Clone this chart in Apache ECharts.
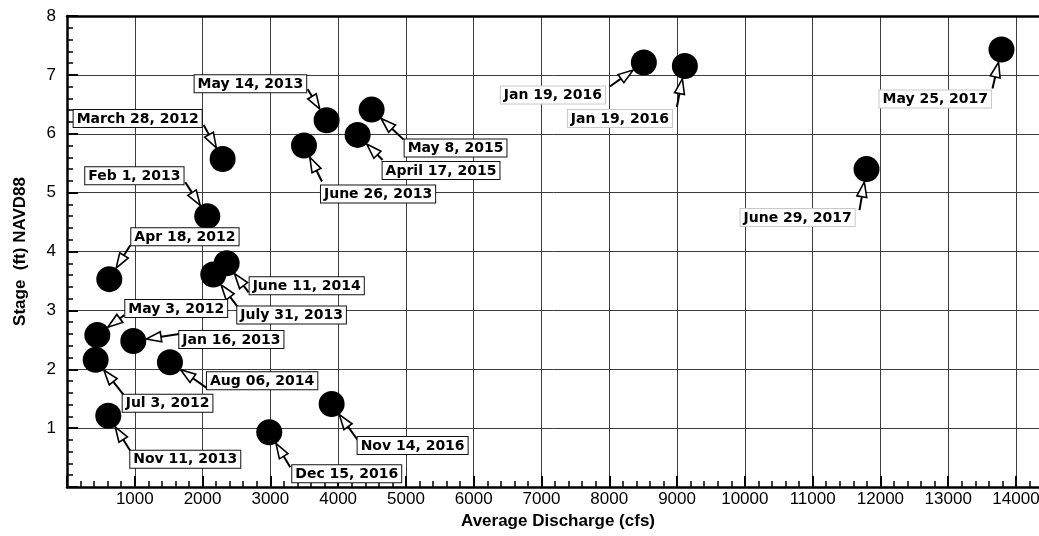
<!DOCTYPE html>
<html>
<head>
<meta charset="utf-8">
<script src="https://cdn.jsdelivr.net/npm/echarts@6/dist/echarts.min.js"></script>
<style>
  html, body { margin: 0; padding: 0; background: #fff; }
  #chart { width: 1039px; height: 536px; }
</style>
</head>
<body>
<div id="chart"></div>
<script>
// Survey dates, average discharge (cfs) and stage (ft, NAVD88)
const sampleDates = [
  'March 28, 2012', 'Feb 1, 2013', 'Apr 18, 2012', 'May 14, 2013', 'June 26, 2013',
  'April 17, 2015', 'May 8, 2015', 'Jan 19, 2016', 'Jan 19, 2016', 'May 25, 2017',
  'June 29, 2017', 'June 11, 2014', 'July 31, 2013', 'May 3, 2012', 'Jan 16, 2013',
  'Jul 3, 2012', 'Aug 06, 2014', 'Nov 11, 2013', 'Dec 15, 2016', 'Nov 14, 2016'
];
const discharge = [
  2296, 2069, 624, 3830, 3496,
  4287, 4494, 8510, 9115, 13786,
  11795, 2355, 2158, 447, 978,
  423, 1519, 609, 2984, 3904
];
const stage = [
  5.57, 4.60, 3.53, 6.23, 5.80,
  5.98, 6.41, 7.21, 7.15, 7.43,
  5.40, 3.80, 3.61, 2.58, 2.48,
  2.16, 2.12, 1.21, 0.93, 1.41
];

// Axis tick labels
const xTickLabels = ['1000', '2000', '3000', '4000', '5000', '6000', '7000',
  '8000', '9000', '10000', '11000', '12000', '13000', '14000'];
const yTickLabels = ['1', '2', '3', '4', '5', '6', '7', '8'];

// Callout placement relative to each marker, in pixels:
// [box left dx, box top dy, arrow tail dx, arrow tail dy, light border]
const calloutLayout = [
  [-149, -49, -19, -34, 0],
  [-122, -49, -22, -34, 0],
  [22, -51, 21, -34, 0],
  [-132, -45, -19, -31, 0],
  [17, 40, 18, 36, 0],
  [25, 27, 25, 25, 0],
  [33, 30, 32, 30, 0],
  [-143, 24, -34, 24, 1],
  [-117, 44, -8, 41, 1],
  [-122, 41, -9, 39, 1],
  [-126, 40, -7, 41, 1],
  [23, 14, 22, 29, 0],
  [24, 32, 24, 32, 0],
  [28, -35, 27, -20, 0],
  [46, -10, 46, -7, 0],
  [27, 35, 28, 35, 0],
  [37, 10, 37, 26, 0],
  [22, 35, 22, 35, 0],
  [23, 33, 21, 35, 0],
  [26, 33, 26, 36, 0]
];

const points = discharge.map((q, i) => [q, stage[i]]);

const MARKER_R = 13;
const HEAD_LEN = 15;
const HEAD_HALF = 5;
const baseFont = '"Liberation Sans", Arial, sans-serif';
// the plot runs on past the right edge of the page
const X_MAX = 14487;

function renderCallout(params, api) {
  const i = params.dataIndex;
  const p = api.coord([api.value(0), api.value(1)]);
  const lay = calloutLayout[i];
  const tx = p[0] + lay[2], ty = p[1] + lay[3];
  const vx = tx - p[0], vy = ty - p[1];
  const len = Math.sqrt(vx * vx + vy * vy) || 1;
  const ux = vx / len, uy = vy / len;
  const tipX = p[0] + ux * MARKER_R, tipY = p[1] + uy * MARKER_R;
  const baseX = tipX + ux * HEAD_LEN, baseY = tipY + uy * HEAD_LEN;
  const nx = -uy, ny = ux;
  return {
    type: 'group',
    children: [
      {
        type: 'line',
        shape: { x1: tx, y1: ty, x2: baseX, y2: baseY },
        style: { stroke: '#000', lineWidth: 2 }
      },
      {
        type: 'polygon',
        shape: { points: [
          [tipX, tipY],
          [baseX + nx * HEAD_HALF, baseY + ny * HEAD_HALF],
          [baseX - nx * HEAD_HALF, baseY - ny * HEAD_HALF]
        ] },
        style: { fill: '#fff', stroke: '#000', lineWidth: 1.6, lineJoin: 'miter' }
      },
      {
        type: 'text',
        x: p[0] + lay[0],
        y: p[1] + lay[1],
        style: {
          text: sampleDates[i],
          font: 'bold 14px "DejaVu Sans", sans-serif',
          fill: '#000',
          align: 'left',
          verticalAlign: 'top',
          lineHeight: 16,
          backgroundColor: '#fff',
          borderColor: lay[4] ? '#c8c8c8' : '#111',
          borderWidth: 1,
          padding: [1, 3, 0, 3]
        }
      }
    ]
  };
}

const chart = echarts.init(document.getElementById('chart'), null, { renderer: 'canvas' });

const axisFont = { fontFamily: baseFont, fontSize: 17, color: '#000' };
const titleFont = { fontFamily: baseFont, fontSize: 17, fontWeight: 'bold', color: '#000' };

chart.setOption({
  animation: false,
  backgroundColor: '#fff',
  grid: {
    left: 67, top: 16, right: -10, bottom: 49,
    containLabel: false,
    outerBoundsMode: 'none'
  },
  xAxis: [
    {
      type: 'value',
      min: 0,
      max: X_MAX,
      interval: 1000,
      name: 'Average Discharge (cfs)',
      nameLocation: 'middle',
      nameGap: 25,
      nameTextStyle: titleFont,
      axisLine: { show: true, onZero: false, lineStyle: { color: '#000', width: 2.5 } },
      axisTick: { show: true, inside: true, length: 11, lineStyle: { color: '#000', width: 2 } },
      minorTick: { show: true, splitNumber: 5, length: 6, lineStyle: { color: '#000', width: 1.5 } },
      splitLine: { show: true, lineStyle: { color: '#3c3c3c', width: 1 } },
      axisLabel: Object.assign({}, axisFont, {
        margin: 4,
        showMaxLabel: false,
        formatter: v => xTickLabels.includes(String(v)) ? String(v) : ''
      })
    },
    {
      type: 'value',
      position: 'top',
      min: 0,
      max: X_MAX,
      interval: 1000,
      axisLine: { show: true, onZero: false, lineStyle: { color: '#000', width: 2.5 } },
      axisTick: { show: false },
      axisLabel: { show: false },
      splitLine: { show: false }
    }
  ],
  yAxis: {
    type: 'value',
    min: 0,
    max: 8,
    interval: 1,
    name: 'Stage  (ft) NAVD88',
    nameLocation: 'middle',
    nameGap: 38,
    nameTextStyle: titleFont,
    axisLine: { show: true, onZero: false, lineStyle: { color: '#000', width: 2.5 } },
    axisTick: { show: true, inside: true, length: 11, lineStyle: { color: '#000', width: 2 } },
    minorTick: { show: true, splitNumber: 5, length: 6, lineStyle: { color: '#000', width: 1.5 } },
    splitLine: { show: true, lineStyle: { color: '#3c3c3c', width: 1 } },
    axisLabel: Object.assign({}, axisFont, {
      margin: 11,
      formatter: v => yTickLabels.includes(String(v)) ? String(v) : ''
    })
  },
  series: [
    {
      type: 'scatter',
      data: points,
      symbol: 'circle',
      symbolSize: 26,
      itemStyle: { color: '#000', opacity: 1 },
      z: 3,
      silent: true
    },
    {
      type: 'custom',
      data: points,
      renderItem: renderCallout,
      z: 4,
      silent: true
    }
  ]
});
</script>
</body>
</html>
